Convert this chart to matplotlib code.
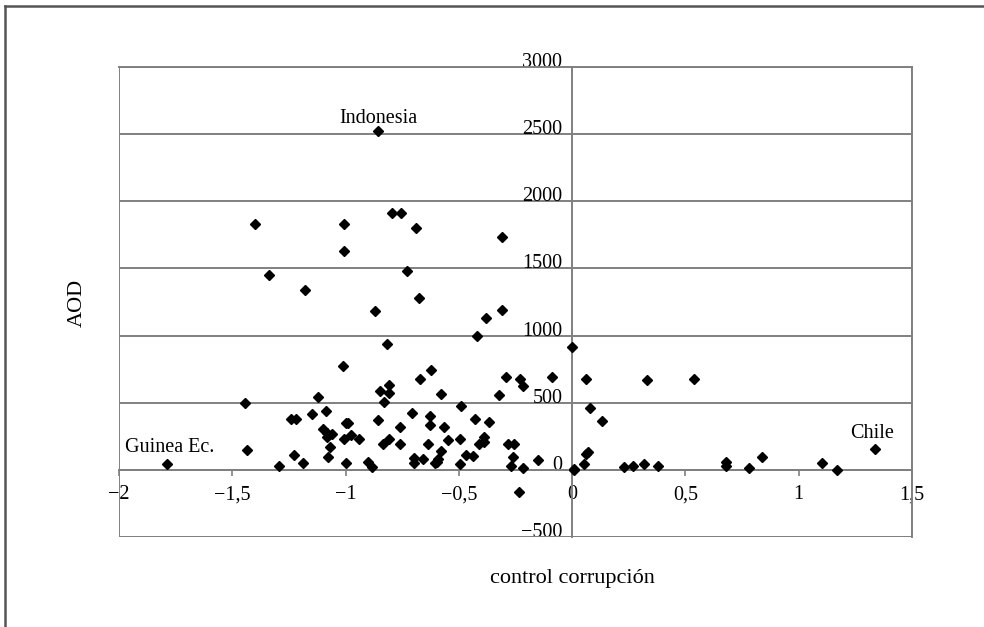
import matplotlib.pyplot as plt
from matplotlib.lines import Line2D
from matplotlib.patches import Rectangle

plt.rcParams['font.family'] = ['Liberation Serif', 'DejaVu Serif']

# control de la corrupción (x) vs AOD (y)
control = [-0.857, -1.400, -1.009, -1.009, -0.793, -0.756, -0.688, -0.309, -1.339, -0.730,
           -1.177, -0.678, -0.869, -0.309, -0.380, -0.421, -0.818, 0.000, -1.011, -0.671,
           -0.621, -0.291, -0.229, -0.219, -0.091, 0.060, 0.330, 0.537, -0.321, -0.809,
           -0.850, -0.809, -0.830, -1.120, -0.578, -1.446, -0.490, -1.087, -1.149, -1.239,
           -1.219, -1.000, -0.990, -0.859, -0.706, -0.627, -0.627, -0.428, -0.368, -0.760,
           -0.566, -1.100, -1.083, -1.061, -1.080, -0.977, -1.009, -0.941, -0.809, -0.546,
           -0.497, -0.388, -0.836, -0.758, -0.635, -0.390, -0.410, -0.282, -0.256, -1.069,
           -1.434, -0.578, -1.228, -0.469, -0.438, -1.078, -0.700, -0.659, -0.259, -0.151,
           -1.190, -0.697, -1.000, -0.605, -0.597, -0.590, -0.899, -0.884, -1.296, -1.789,
           -0.497, -0.268, -0.216, 0.006, 0.010, -0.235, 0.081, 0.131, 0.060, 0.069,
           0.051, 0.231, 0.269, 0.319, 0.380, 0.678, 0.678, 0.781, 0.840, 1.102,
           1.171, 1.337]
aod = [2524, 1833, 1833, 1630, 1910, 1910, 1801, 1731, 1451, 1481,
       1341, 1277, 1183, 1192, 1130, 996, 939, 914, 770, 680,
       745, 695, 676, 626, 695, 680, 668, 680, 554, 633,
       584, 571, 509, 540, 562, 500, 478, 440, 417, 378,
       382, 350, 347, 368, 427, 402, 335, 378, 358, 320,
       316, 303, 273, 268, 246, 258, 229, 229, 231, 226,
       231, 248, 196, 194, 194, 206, 191, 196, 196, 171,
       149, 144, 114, 109, 102, 97, 92, 82, 94, 70,
       54, 54, 50, 50, 62, 80, 60, 22, 32, 42,
       42, 30, 17, 7, 0, -166, 460, 367, 121, 132,
       47, 25, 32, 40, 32, 62, 30, 15, 94, 50,
       0, 154]

# países señalados: (nombre, índice del punto, desplazamiento en px, alineación)
etiquetas = [("Indonesia", 0, (0, 8), 'center'),
             ("Guinea Ec.", 89, (-42, 12), 'left'),
             ("Chile", 111, (-3, 11), 'center')]

xticks = [-2, -1.5, -1, -0.5, 0, 0.5, 1, 1.5]
yticks = [-500, 0, 500, 1000, 1500, 2000, 2500, 3000]

gris = '#808080'
dpi = 100
fig = plt.figure(figsize=(9.84, 6.27), dpi=dpi)
ax = fig.add_axes([119 / 984, 90 / 627, 793 / 984, 470 / 627])

ax.plot(control, aod, linestyle='none', marker='D', markersize=4.6,
        color='black', zorder=3, clip_on=False)

for nombre, i, (dx, dy), ha in etiquetas:
    ax.annotate(nombre, (control[i], aod[i]), xytext=(dx * 72 / dpi, dy * 72 / dpi),
                textcoords='offset points', ha=ha, va='baseline', fontsize=14.5)

ax.set_xlim(-2, 1.5)
ax.set_ylim(-500, 3000)

ax.spines['left'].set_position(('data', 0))
ax.spines['bottom'].set_position(('data', 0))
for s in ax.spines.values():
    s.set_color(gris)
    s.set_linewidth(1.4)
ax.add_patch(Rectangle((0, 0), 1, 1, transform=ax.transAxes, fill=False,
                       ec=gris, lw=1.4, zorder=2))

fmt = lambda v: ('%g' % v).replace('.', ',').replace('-', '\u2212')
ax.set_xticks(xticks)
ax.set_xticklabels([fmt(v) for v in xticks])
ax.set_yticks(yticks)
ax.set_yticklabels([fmt(v) for v in yticks])
for lab in ax.get_yticklabels():
    lab.set_verticalalignment('baseline')

ax.tick_params(axis='x', direction='out', length=4, width=1.2, color=gris,
               labelsize=14.5, pad=7)
ax.tick_params(axis='y', length=0, labelsize=14.5, pad=7)
ax.yaxis.grid(True, color=gris, linewidth=1.4)
ax.set_axisbelow(True)

fig.text(572 / 984, 1 - 579 / 627, 'control corrupción', ha='center', va='center',
         fontsize=16)
fig.text(77 / 984, 1 - 303 / 627, 'AOD', ha='center', va='center',
         rotation=90, fontsize=16)

# marco exterior (solo arriba e izquierda)
fig.add_artist(Line2D([5 / 984, 1], [1 - 6 / 627, 1 - 6 / 627], color='#555555', lw=1.8))
fig.add_artist(Line2D([5 / 984, 5 / 984], [0, 1 - 6 / 627], color='#555555', lw=1.8))

fig.savefig('out.png', dpi=dpi)
